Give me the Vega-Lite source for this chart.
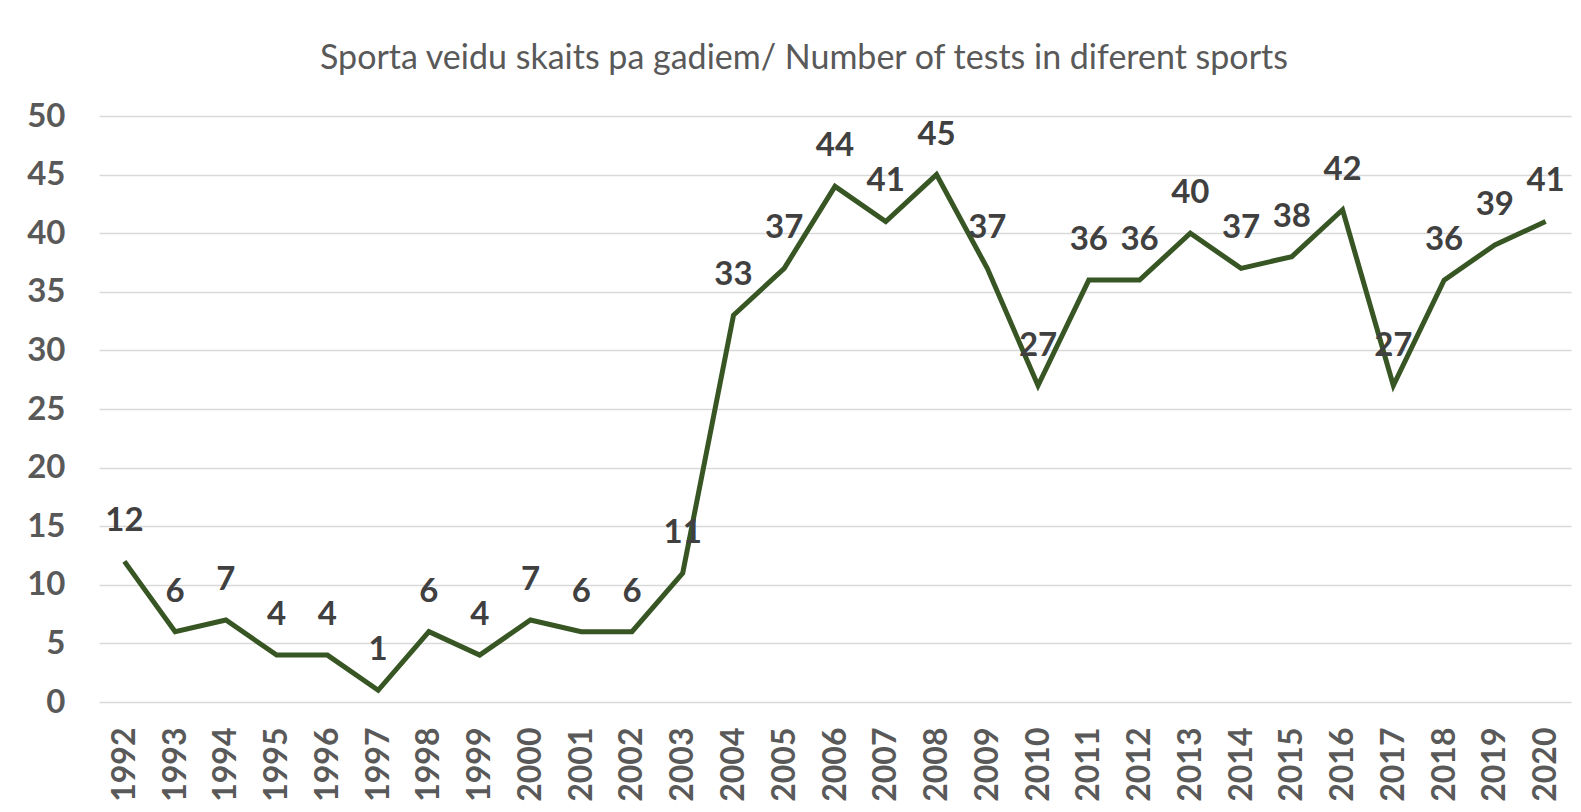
{
  "$schema": "https://vega.github.io/schema/vega-lite/v6.json",
  "autosize": "none",
  "padding": {"left": 99, "top": 116, "right": 10, "bottom": 110},
  "width": 1472,
  "height": 586,
  "background": "white",
  "title": {
    "text": "Sporta veidu skaits pa gadiem/ Number of tests in diferent sports",
    "anchor": "middle",
    "dx": -31,
    "offset": 24,
    "font": "Lato",
    "fontSize": 34,
    "fontWeight": "normal",
    "color": "#595959"
  },
  "config": {
    "view": {"stroke": null},
    "font": "Lato"
  },
  "data": {
    "values": [
      {"year": "1992", "count": 12},
      {"year": "1993", "count": 6},
      {"year": "1994", "count": 7},
      {"year": "1995", "count": 4},
      {"year": "1996", "count": 4},
      {"year": "1997", "count": 1},
      {"year": "1998", "count": 6},
      {"year": "1999", "count": 4},
      {"year": "2000", "count": 7},
      {"year": "2001", "count": 6},
      {"year": "2002", "count": 6},
      {"year": "2003", "count": 11},
      {"year": "2004", "count": 33},
      {"year": "2005", "count": 37},
      {"year": "2006", "count": 44},
      {"year": "2007", "count": 41},
      {"year": "2008", "count": 45},
      {"year": "2009", "count": 37},
      {"year": "2010", "count": 27},
      {"year": "2011", "count": 36},
      {"year": "2012", "count": 36},
      {"year": "2013", "count": 40},
      {"year": "2014", "count": 37},
      {"year": "2015", "count": 38},
      {"year": "2016", "count": 42},
      {"year": "2017", "count": 27},
      {"year": "2018", "count": 36},
      {"year": "2019", "count": 39},
      {"year": "2020", "count": 41}
    ]
  },
  "encoding": {
    "x": {
      "field": "year",
      "type": "ordinal",
      "scale": {"type": "point", "padding": 0.5},
      "axis": {
        "title": null,
        "labelAngle": -90,
        "labelAlign": "right",
        "labelBaseline": "middle",
        "labelFont": "Lato",
        "labelFontSize": 32,
        "labelFontWeight": "bold",
        "labelColor": "#595959",
        "labelPadding": 25,
        "ticks": false,
        "domain": false,
        "grid": false
      }
    },
    "y": {
      "field": "count",
      "type": "quantitative",
      "scale": {"domain": [0, 50]},
      "axis": {
        "title": null,
        "values": [0, 5, 10, 15, 20, 25, 30, 35, 40, 45, 50],
        "labelFont": "Lato",
        "labelFontSize": 33,
        "labelFontWeight": "bold",
        "labelColor": "#595959",
        "labelPadding": 34,
        "ticks": false,
        "domain": false,
        "grid": true,
        "gridColor": "#d9d9d9",
        "gridWidth": 1.5
      }
    }
  },
  "layer": [
    {
      "mark": {"type": "line", "color": "#375623", "strokeWidth": 5, "strokeJoin": "miter"}
    },
    {
      "mark": {
        "type": "text",
        "dy": -40,
        "baseline": "middle",
        "align": "center",
        "font": "Lato",
        "fontSize": 33,
        "fontWeight": "bold",
        "color": "#404040"
      },
      "encoding": {"text": {"field": "count", "type": "quantitative"}}
    }
  ]
}
